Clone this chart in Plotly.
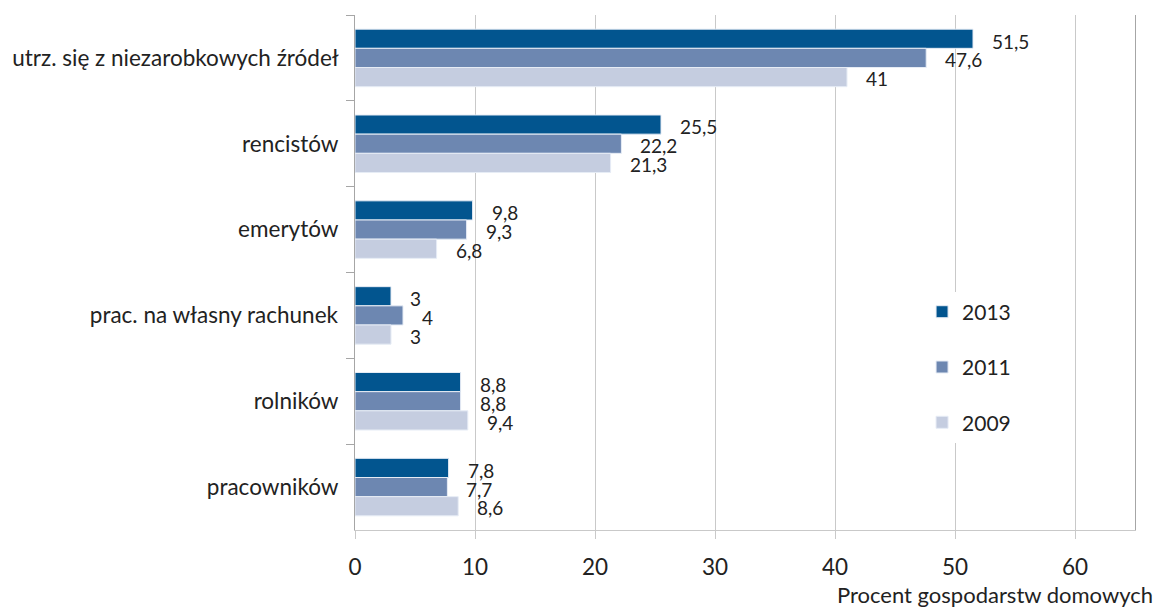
import plotly.graph_objects as go

categories = [
    "utrz. się z niezarobkowych źródeł",
    "rencistów",
    "emerytów",
    "prac. na własny rachunek",
    "rolników",
    "pracowników",
]
years = ["2013", "2011", "2009"]
values_2013 = [51.5, 25.5, 9.8, 3, 8.8, 7.8]
values_2011 = [47.6, 22.2, 9.3, 4, 8.8, 7.7]
values_2009 = [41, 21.3, 6.8, 3, 9.4, 8.6]
colors = ["#02558f", "#6d87b1", "#c5cde0"]
x_ticks = [0, 10, 20, 30, 40, 50, 60]

series = [values_2013, values_2011, values_2009]
FONT = "Lato"
TEXT = "#222222"


def fmt(v):
    s = f"{v:g}"
    return s.replace(".", ",")


fig = go.Figure()
for i, (year, vals, col) in enumerate(zip(years, series, colors)):
    fig.add_trace(go.Bar(
        y=categories,
        x=vals,
        name=year,
        orientation="h",
        marker=dict(color=col, line=dict(color="#e6ecf5", width=1)),
        legendgroup=year,
        hoverinfo="x+y",
    ))

# value labels next to each bar
for i, vals in enumerate(series):
    for j, (cat, v) in enumerate(zip(categories, vals)):
        fig.add_annotation(
            x=v, y=j + (i - 1) * 0.22, xref="x", yref="y",
            text=fmt(v), showarrow=False, xanchor="left", yanchor="middle",
            xshift=17, yshift=-2,
            font=dict(family=FONT, size=19, color=TEXT),
        )

fig.add_annotation(
    text="Procent gospodarstw domowych", xref="paper", yref="paper",
    x=1.026, y=-0.156, xanchor="right", yanchor="bottom", showarrow=False,
    font=dict(family=FONT, size=22, color=TEXT),
)

fig.update_layout(
    width=1160, height=607,
    margin=dict(l=355, r=25, t=15, b=77),
    plot_bgcolor="white", paper_bgcolor="white",
    barmode="group", bargap=0.33, bargroupgap=0.0,
    font=dict(family=FONT, color=TEXT),
    legend=dict(
        x=0.727, y=0.463, xanchor="left", yanchor="top",
        bgcolor="white", font=dict(family=FONT, size=21, color=TEXT),
        tracegroupgap=25, itemwidth=30,
    ),
    xaxis=dict(
        range=[0, 65], tickvals=x_ticks, ticktext=[str(t) for t in x_ticks],
        showgrid=True, gridcolor="#c9c9c9", gridwidth=1,
        showline=True, linecolor="#c9c9c9", linewidth=1,
        ticks="outside", ticklen=8, tickcolor="#c9c9c9",
        tickfont=dict(family=FONT, size=22.5, color=TEXT),
        ticklabelstandoff=9,
        zeroline=False, fixedrange=True,
    ),
    yaxis=dict(
        autorange="reversed", type="category",
        showline=True, linecolor="#a6a6a6", linewidth=1, mirror=True,
        ticks="outside", ticklen=8, tickcolor="#a6a6a6", tickson="boundaries",
        tickfont=dict(family=FONT, size=22.5, color=TEXT),
        ticksuffix="  ", showgrid=False, fixedrange=True,
    ),
)

fig.write_html("out.html")
